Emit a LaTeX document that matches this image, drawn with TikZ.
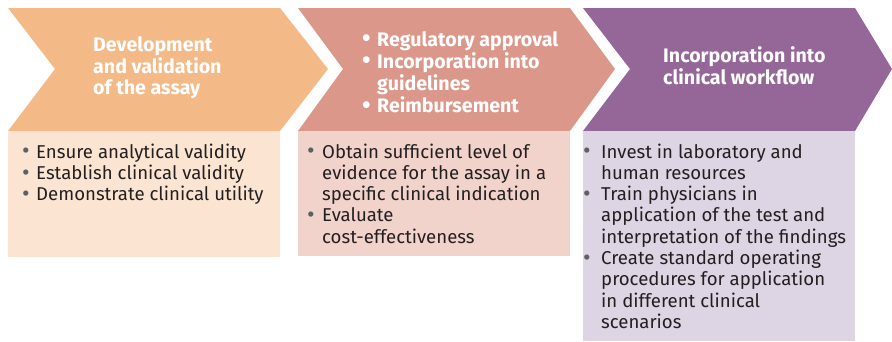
\documentclass[tikz,border=0pt]{standalone}
\usepackage{fontspec}
\setmainfont{Fira Sans}
\usepackage{array}
\usepackage{graphicx}
\definecolor{cA}{HTML}{F3B987}
\definecolor{lA}{HTML}{FBE5D2}
\definecolor{cB}{HTML}{DB978A}
\definecolor{lB}{HTML}{F2D3CB}
\definecolor{cC}{HTML}{956698}
\definecolor{lC}{HTML}{DED5E4}
\definecolor{txt}{HTML}{231F20}
\definecolor{bulgray}{HTML}{5F6063}
\newcommand\mybul[2]{\makebox[#1][l]{\textcolor{#2}{\raisebox{-0.04em}{\scalebox{1.25}{•}}}}}
\begin{document}
\begin{tikzpicture}[x=1pt,y=-1pt,
  title/.style={anchor=base west, inner sep=0pt, text=white, font=\bfseries\fontsize{19.6}{21}\selectfont},
  body/.style={anchor=base west, inner sep=0pt, text=txt, font=\fontsize{18.6}{21.3}\selectfont}]
\useasboundingbox (0,0) rectangle (892,341);
\clip (0,0) rectangle (892,341);
% chevrons
\fill[cA] (8,8) -- (280,8) -- (328,69) -- (280,131) -- (8,131) -- (55,69) -- cycle;
\fill[cB] (298,8) -- (570,8) -- (615,69) -- (570,131) -- (298,131) -- (343,69) -- cycle;
\fill[cC] (583,8) -- (855,8) -- (892,69) -- (855,131) -- (583,131) -- (630,69) -- cycle;
% lower boxes
\fill[lA] (8,131) rectangle (280,257);
\fill[lB] (298,131) rectangle (570,256);
\fill[lC] (583,131) rectangle (855,341);
% titles
\node[title] (t1) at (93,51) {\begin{tabular}[t]{@{}l@{}}Development\\and validation\\of the assay\end{tabular}};
\node[title] (t2) at (362,46) {\begin{tabular}[t]{@{}l@{}l@{}}\mybul{15pt}{white}&Regulatory approval\\\mybul{15pt}{white}&Incorporation into\\&guidelines\\\mybul{15pt}{white}&Reimbursement\end{tabular}};
\node[title] (t3) at (663,62) {\begin{tabular}[t]{@{}l@{}}Incorporation into\\clinical workflow\end{tabular}};
% bodies
\node[body] (b1) at (22,158) {\begin{tabular}[t]{@{}l@{}l@{}}\mybul{14pt}{bulgray}&Ensure analytical validity\\\mybul{14pt}{bulgray}&Establish clinical validity\\\mybul{14pt}{bulgray}&Demonstrate clinical utility\end{tabular}};
\node[body] (b2) at (307,158) {\begin{tabular}[t]{@{}l@{}l@{}}\mybul{15pt}{bulgray}&Obtain sufficient level of\\&evidence for the assay in a\\&specific clinical indication\\\mybul{15pt}{bulgray}&Evaluate\\&cost-effectiveness\end{tabular}};
\node[body] (b3) at (583,158) {\begin{tabular}[t]{@{}l@{}l@{}}\mybul{18pt}{bulgray}&Invest in laboratory and\\&human resources\\\mybul{18pt}{bulgray}&Train physicians in\\&application of the test and\\&interpretation of the findings\\\mybul{18pt}{bulgray}&Create standard operating\\&procedures for application\\&in different clinical\\&scenarios\end{tabular}};
\end{tikzpicture}
\end{document}
